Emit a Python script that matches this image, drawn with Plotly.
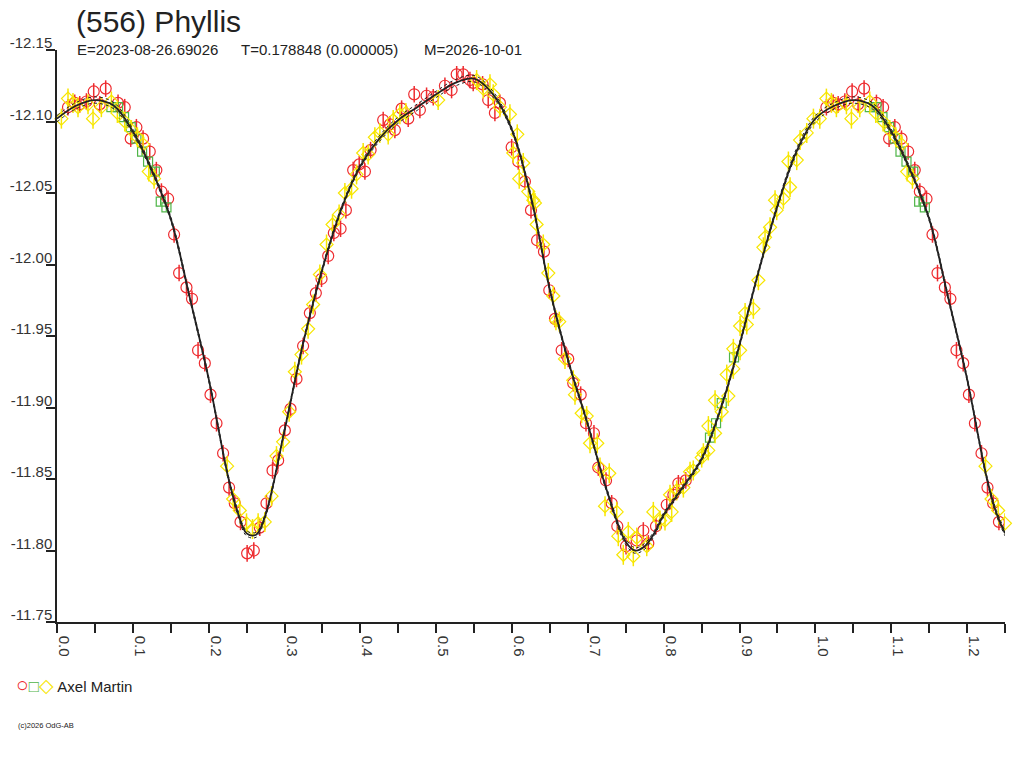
import plotly.graph_objects as go

# Lichtkurve (556) Phyllis - Phase / Helligkeit (mag)
red_phase = [0.0145, 0.0234, 0.030, 0.0388, 0.0484, 0.0563, 0.0642, 0.0805, 0.0893, 0.0972,
             0.1047, 0.1135, 0.1223, 0.131, 0.1377, 0.1465, 0.1544, 0.161, 0.1707, 0.178,
             0.186, 0.1949, 0.2024, 0.2103, 0.219, 0.2269, 0.2344, 0.242, 0.2507, 0.2595,
             0.2674, 0.2762, 0.2842, 0.2916, 0.3004, 0.3079, 0.3158, 0.3245, 0.3334, 0.3413,
             0.3488, 0.3576, 0.365, 0.3739, 0.3809, 0.3905, 0.3985, 0.406, 0.4135, 0.4301,
             0.4389, 0.4455, 0.4544, 0.4631, 0.471, 0.4785, 0.4873, 0.4961, 0.5115, 0.5203,
             0.527, 0.5356, 0.5445, 0.5488, 0.5612, 0.5686, 0.5774, 0.584, 0.5995, 0.6082,
             0.617, 0.625, 0.633, 0.6421, 0.6491, 0.6566, 0.6654, 0.6741, 0.6807, 0.6905,
             0.6975, 0.708, 0.7137, 0.7239, 0.7314, 0.7388, 0.7503, 0.7644, 0.7731, 0.7797,
             0.7898, 0.804, 0.8127, 0.8193, 0.829]
red_mag = [-12.110, -12.113, -12.112, -12.114, -12.121, -12.112, -12.123, -12.113, -12.110, -12.088,
           -12.096, -12.088, -12.079, -12.066, -12.051, -12.046, -12.021, -11.994, -11.984, -11.976,
           -11.940, -11.931, -11.909, -11.889, -11.868, -11.844, -11.833, -11.820, -11.798, -11.800,
           -11.816, -11.833, -11.856, -11.863, -11.884, -11.899, -11.920, -11.943, -11.966, -11.980,
           -11.990, -12.006, -12.022, -12.025, -12.038, -12.066, -12.070, -12.065, -12.080, -12.101,
           -12.098, -12.094, -12.109, -12.102, -12.119, -12.108, -12.118, -12.117, -12.125, -12.122,
           -12.133, -12.133, -12.129, -12.127, -12.126, -12.115, -12.106, -12.113, -12.082, -12.072,
           -12.058, -12.038, -12.017, -12.009, -11.982, -11.962, -11.940, -11.934, -11.917, -11.909,
           -11.889, -11.882, -11.858, -11.849, -11.833, -11.817, -11.803, -11.807, -11.814, -11.805,
           -11.817, -11.832, -11.839, -11.847, -11.849]
red_err = 0.0058

green_phase = [0.0717, 0.0805, 0.0884, 0.0972, 0.1047, 0.1122, 0.1201, 0.129, 0.1368, 0.1443,
               0.861, 0.869, 0.8765, 0.8927]
green_mag = [-12.110, -12.110, -12.103, -12.096, -12.088, -12.079, -12.072, -12.065, -12.044, -12.040,
             -11.879, -11.889, -11.903, -11.935]
green_err = 0.003

yellow_phase = [0.0058, 0.0145, 0.0211, 0.0277, 0.0409, 0.0475, 0.0585, 0.0717, 0.0796, 0.0893,
                0.0981, 0.106, 0.1135, 0.121, 0.128, 0.2243, 0.2322, 0.241, 0.2499, 0.2578,
                0.2652, 0.274, 0.2829, 0.2894, 0.2982, 0.3061, 0.3136, 0.3224, 0.3311, 0.3377,
                0.3466, 0.3554, 0.3633, 0.372, 0.3796, 0.3884, 0.395, 0.4037, 0.4103, 0.4191,
                0.4257, 0.4367, 0.4433, 0.4521, 0.46, 0.5026, 0.5533, 0.562, 0.5709, 0.5752,
                0.584, 0.5972, 0.6016, 0.6069, 0.6095, 0.6148, 0.6214, 0.6281, 0.6302, 0.6324,
                0.6412, 0.6478, 0.6544, 0.6579, 0.6623, 0.6698, 0.6807, 0.683, 0.6918, 0.6984,
                0.7028, 0.7124, 0.716, 0.7226, 0.7282, 0.738, 0.7401, 0.7467, 0.7533, 0.7599,
                0.7644, 0.7776, 0.7863, 0.7951, 0.8017, 0.8083, 0.8105, 0.8171, 0.8259, 0.8347,
                0.839, 0.8501, 0.8523, 0.8588, 0.8589, 0.8677, 0.8677, 0.8765, 0.8831, 0.8852,
                0.8918, 0.8918, 0.9007, 0.9007, 0.9073, 0.9095, 0.9182, 0.9248, 0.9314, 0.9336,
                0.9402, 0.9468, 0.949, 0.9578, 0.9644, 0.9666, 0.9754, 0.9798, 0.9886, 0.9974]
yellow_mag = [-12.102, -12.116, -12.113, -12.110, -12.112, -12.102, -12.110, -12.114, -12.106, -12.100,
              -12.094, -12.089, -12.084, -12.065, -12.060, -11.859, -11.836, -11.828, -11.819, -11.815,
              -11.819, -11.820, -11.838, -11.866, -11.876, -11.897, -11.925, -11.937, -11.955, -11.972,
              -11.993, -12.014, -12.028, -12.035, -12.050, -12.053, -12.063, -12.078, -12.077, -12.089,
              -12.092, -12.091, -12.101, -12.105, -12.106, -12.115, -12.129, -12.123, -12.126, -12.119,
              -12.110, -12.105, -12.078, -12.091, -12.060, -12.071, -12.051, -12.045, -12.043, -12.028,
              -12.014, -11.994, -11.978, -11.961, -11.960, -11.934, -11.919, -11.909, -11.896, -11.894,
              -11.875, -11.875, -11.858, -11.831, -11.854, -11.827, -11.810, -11.797, -11.813, -11.796,
              -11.809, -11.803, -11.827, -11.821, -11.821, -11.839, -11.827, -11.842, -11.844, -11.855,
              -11.856, -11.865, -11.868, -11.870, -11.887, -11.882, -11.905, -11.897, -11.923, -11.908,
              -11.927, -11.941, -11.940, -11.957, -11.966, -11.958, -11.969, -11.989, -12.012, -12.019,
              -12.026, -12.045, -12.038, -12.046, -12.072, -12.054, -12.073, -12.087, -12.092, -12.102]
yellow_err = 0.007

# Fourier-Fit
curve_phase = [0.000, 0.025, 0.050, 0.075, 0.100, 0.125, 0.150, 0.175, 0.200, 0.225,
               0.2375, 0.250, 0.2625, 0.275, 0.300, 0.325, 0.350, 0.375, 0.400, 0.425,
               0.450, 0.475, 0.500, 0.525, 0.550, 0.575, 0.600, 0.625, 0.650, 0.675,
               0.700, 0.725, 0.750, 0.7625, 0.775, 0.7875, 0.800, 0.825, 0.850, 0.875,
               0.900, 0.925, 0.950, 0.975, 1.000]
curve_mag = [-12.102, -12.111, -12.115, -12.111, -12.093, -12.066, -12.032, -11.977, -11.920, -11.853,
             -11.828, -11.812, -11.811, -11.825, -11.884, -11.946, -11.997, -12.039, -12.069, -12.088,
             -12.101, -12.110, -12.119, -12.127, -12.130, -12.119, -12.094, -12.047, -11.982, -11.931,
             -11.888, -11.842, -11.806, -11.800, -11.803, -11.812, -11.825, -11.844, -11.864, -11.899,
             -11.944, -11.995, -12.041, -12.079, -12.102]
curve_sigma = [0.0022, 0.0022, 0.0022, 0.0022, 0.0018, 0.0015, 0.0015, 0.0015, 0.0015, 0.0015,
               0.0018, 0.0018, 0.0018, 0.0015, 0.0015, 0.0015, 0.0015, 0.0015, 0.0015, 0.0020,
               0.0022, 0.0022, 0.0022, 0.0022, 0.0022, 0.0020, 0.0015, 0.0015, 0.0015, 0.0015,
               0.0015, 0.0015, 0.0020, 0.0020, 0.0020, 0.0018, 0.0015, 0.0015, 0.0015, 0.0015,
               0.0015, 0.0015, 0.0015, 0.0020, 0.0022]

y_ticks = [-12.15, -12.10, -12.05, -12.00, -11.95, -11.90, -11.85, -11.80, -11.75]
y_ticktext = ["-12.15", "-12.10", "-12.05", "-12.00", "-11.95", "-11.90", "-11.85", "-11.80", "-11.75"]
x_ticks = [0.0, 0.05, 0.1, 0.15, 0.2, 0.25, 0.3, 0.35, 0.4, 0.45, 0.5, 0.55, 0.6,
           0.65, 0.7, 0.75, 0.8, 0.85, 0.9, 0.95, 1.0, 1.05, 1.1, 1.15, 1.2, 1.25]
x_ticktext = ["0.0", "", "0.1", "", "0.2", "", "0.3", "", "0.4", "", "0.5", "", "0.6",
              "", "0.7", "", "0.8", "", "0.9", "", "1.0", "", "1.1", "", "1.2", ""]

X_MAX = 1.25
RED, GREEN, YELLOW, INK = "#ee2b2f", "#4fb548", "#f7e600", "#222222"


def wrap(ph, mag):
    # Phase 0..0.25 wird hinter 1.0 wiederholt
    xs, ys = list(ph), list(mag)
    for p, m in zip(ph, mag):
        if p + 1.0 <= X_MAX:
            xs.append(p + 1.0)
            ys.append(m)
    return xs, ys


fig = go.Figure()

for ph, mag, err, col, sym, size in [
    (red_phase, red_mag, red_err, RED, "circle-open", 11),
    (green_phase, green_mag, green_err, GREEN, "square-open", 9),
    (yellow_phase, yellow_mag, yellow_err, YELLOW, "diamond-open", 10),
]:
    xs, ys = wrap(ph, mag)
    fig.add_trace(go.Scatter(
        x=xs, y=ys, mode="markers", cliponaxis=False, showlegend=False,
        marker=dict(symbol=sym, size=size, color=col, line=dict(width=1.2, color=col)),
        error_y=dict(type="constant", value=err, color=col, thickness=1.5, width=0),
    ))

cx, cy = wrap(curve_phase[:-1], curve_mag[:-1])
_, cs = wrap(curve_phase[:-1], curve_sigma[:-1])
order = sorted(range(len(cx)), key=lambda i: cx[i])
cx = [cx[i] for i in order]
cy = [cy[i] for i in order]
cs = [cs[i] for i in order]

for sign in (-1, 1):
    fig.add_trace(go.Scatter(
        x=cx, y=[m + sign * s for m, s in zip(cy, cs)], mode="lines", showlegend=False,
        line=dict(color=INK, width=1, dash="dot", shape="spline"),
    ))
fig.add_trace(go.Scatter(
    x=cx, y=cy, mode="lines", showlegend=False,
    line=dict(color=INK, width=1.8, shape="spline"),
))

# Rahmen in Bildschirm-Pixeln (Seitenrand wird per Skript auf 0 gesetzt)
W, H = 1024, 768
L, T, R, B = 57, 50, 1024 - 1005, 768 - 622


def px(x):
    return (x - L) / (W - L - R)


def py(y):
    return (H - B - y) / (H - T - B)


font = "Liberation Sans, Arial, sans-serif"
notes = [
    dict(x=px(75), y=py(22), text="(556) Phyllis", size=30),
    dict(x=px(76), y=py(49), text="E=2023-08-26.69026", size=15),
    dict(x=px(240), y=py(49), text="T=0.178848 (0.000005)", size=15),
    dict(x=px(423), y=py(49), text="M=2026-10-01", size=15),
    dict(x=px(15), y=py(684),
         text=f'<span style="color:{RED};font-size:21px">○</span>'
              f'<span style="color:{GREEN};font-size:17px">□</span>'
              f'<span style="color:{YELLOW};font-size:19px">◇</span> Axel Martin', size=15),
    dict(x=px(17), y=py(725), text="(c)2026 OdG-AB", size=7.5),
]
for n in notes:
    fig.add_annotation(x=n["x"], y=n["y"], xref="paper", yref="paper", text=n["text"],
                       showarrow=False, xanchor="left", yanchor="middle", borderpad=0,
                       font=dict(size=n["size"], color=INK, family=font))

fig.update_layout(
    width=W, height=H,
    margin=dict(l=L, r=R, t=T, b=B),
    plot_bgcolor="white", paper_bgcolor="white",
    font=dict(family=font, size=15, color="#333333"),
    xaxis=dict(
        range=[0, X_MAX], tickmode="array", tickvals=x_ticks, ticktext=x_ticktext,
        tickangle=90, ticks="outside", ticklen=9, tickwidth=1.5, tickcolor=INK,
        showline=True, linecolor=INK, linewidth=1.5, showgrid=False, zeroline=False,
        ticklabelshift=7, automargin=False, tickfont=dict(size=15, color="#333333"),
    ),
    yaxis=dict(
        range=[-11.75, -12.15], tickmode="array", tickvals=y_ticks, ticktext=y_ticktext,
        ticks="outside", ticklen=9, tickwidth=1.5, tickcolor=INK,
        ticklabelposition="outside top", ticklabelshift=-4, automargin=False,
        showline=True, linecolor=INK, linewidth=1.5, showgrid=False, zeroline=False,
        tickfont=dict(size=15, color="#333333"),
    ),
)

fig.write_html("out.html", config={"displayModeBar": False},
               post_script="document.body.style.margin='0';")
